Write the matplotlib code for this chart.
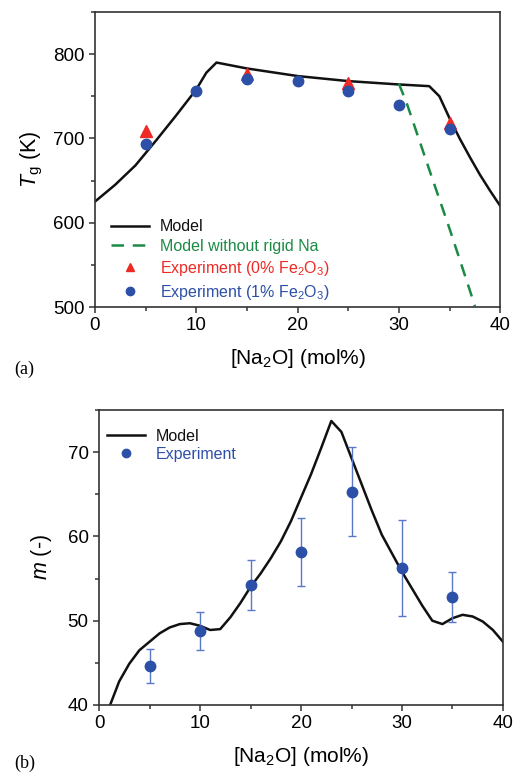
import matplotlib
matplotlib.use("Agg")
import numpy as np
import matplotlib.pyplot as plt

plt.rcParams["font.family"] = ["Liberation Sans", "DejaVu Sans"]
plt.rcParams["mathtext.fontset"] = "custom"
plt.rcParams["mathtext.rm"] = "Liberation Sans"
plt.rcParams["mathtext.it"] = "Liberation Sans:italic"

# --- panel (a): glass transition temperature ---
model_x = [0, 2, 4, 6, 8, 10, 11, 12, 15, 20, 25, 30, 33, 34, 35, 36, 37, 38, 39, 40]
model_tg = [625, 645, 668, 697, 727, 758, 778, 790, 783, 774, 768, 764, 762, 750,
            724, 700, 678, 657, 638, 620]
norigid_x = [30, 30.8, 33, 35, 37, 37.5]
norigid_tg = [765, 741, 663, 593, 520, 501]
exp0_x = [5, 15, 25, 35]
exp0_tg = [709, 777, 766, 718]
exp1_x = [5, 10, 15, 20, 25, 30, 35]
exp1_tg = [693, 756, 771, 768, 756, 740, 711]

# --- panel (b): fragility ---
frag_x = [1.1, 2, 3, 4, 5, 6, 7, 8, 9, 10, 11, 12, 13, 14, 15, 16, 17, 18, 19, 20,
          21, 22, 23, 24, 25, 26, 27, 28, 29, 30, 31, 32, 33, 34, 35, 36, 37, 38, 39, 40]
frag_m = [40.0, 42.8, 44.9, 46.5, 47.5, 48.5, 49.2, 49.6, 49.7, 49.4, 48.9, 49.0,
          50.4, 52.1, 54.0, 55.6, 57.4, 59.4, 61.8, 64.6, 67.4, 70.5, 73.7, 72.4,
          69.3, 66.2, 63.1, 60.2, 58.0, 55.8, 53.8, 51.8, 50.0, 49.6, 50.3, 50.7,
          50.5, 49.9, 48.9, 47.5]
mexp_x = [5, 10, 15, 20, 25, 30, 35]
mexp = [44.6, 48.8, 54.2, 58.2, 65.3, 56.3, 52.8]
mexp_hi = [46.7, 51.0, 57.2, 62.2, 70.6, 62.0, 55.8]
mexp_lo = [42.6, 46.5, 51.3, 54.1, 60.1, 50.6, 49.9]

BLACK = "#111111"
GREEN = "#1b8a45"
RED = "#ee2a24"
BLUE = "#2c4fa8"
EBLUE = "#5a78c8"


def style_axes(ax):
    for s in ax.spines.values():
        s.set_linewidth(1.2)
        s.set_color("#333333")
    ax.tick_params(which="both", direction="out", width=1.1, color="#333333",
                   labelsize=13.5, pad=3)
    ax.tick_params(which="major", length=4.5)
    ax.tick_params(which="minor", length=3)


fig = plt.figure(figsize=(5.13, 7.72), dpi=100)

ax1 = fig.add_axes([0.185, 0.6023, 0.79, 0.3822])
ax1.plot(model_x, model_tg, color=BLACK, lw=1.8, label="Model")
ax1.plot(norigid_x, norigid_tg, color=GREEN, lw=1.8, ls=(0, (5, 3.5)),
         label="Model without rigid Na")
ax1.plot(exp0_x, exp0_tg, ls="none", marker="^", ms=8, color=RED,
         label=r"Experiment (0% Fe$_2$O$_3$)")
ax1.plot(exp1_x, exp1_tg, ls="none", marker="o", ms=7.5, color=BLUE,
         label=r"Experiment (1% Fe$_2$O$_3$)")
ax1.set_xlim(0, 40)
ax1.set_ylim(500, 850)
ax1.set_xticks(np.arange(0, 41, 10))
ax1.set_xticks(np.arange(0, 41, 5), minor=True)
ax1.set_yticks(np.arange(500, 801, 100))
ax1.set_yticks(np.arange(500, 851, 50), minor=True)
ax1.set_xlabel(r"[Na$_2$O] (mol%)", fontsize=15, labelpad=9)
ax1.set_ylabel(r"$T_\mathrm{g}$ (K)", fontsize=15.5, labelpad=6)
style_axes(ax1)
leg1 = ax1.legend(loc="lower left", bbox_to_anchor=(0.005, -0.03), frameon=False,
                  fontsize=11.5, handlelength=2.35, handletextpad=0.7,
                  labelspacing=0.3, markerscale=0.8)
for txt, c in zip(leg1.get_texts(), [BLACK, GREEN, RED, BLUE]):
    txt.set_color(c)
fig.text(0.027, 0.515, "(a)", family="Liberation Serif", fontsize=13)

ax2 = fig.add_axes([0.193, 0.0868, 0.7875, 0.3821])
ax2.plot(frag_x, frag_m, color=BLACK, lw=1.8, label="Model")
yerr = [np.subtract(mexp, mexp_lo), np.subtract(mexp_hi, mexp)]
ax2.errorbar(mexp_x, mexp, yerr=yerr, ls="none", marker="none",
             ecolor=EBLUE, elinewidth=1.0, capsize=3, capthick=1.0)
ax2.plot(mexp_x, mexp, ls="none", marker="o", ms=7.5, color=BLUE,
         label="Experiment")
ax2.set_xlim(0, 40)
ax2.set_ylim(40, 75)
ax2.set_xticks(np.arange(0, 41, 10))
ax2.set_xticks(np.arange(0, 41, 5), minor=True)
ax2.set_yticks(np.arange(40, 71, 10))
ax2.set_yticks(np.arange(40, 76, 5), minor=True)
ax2.set_xlabel(r"[Na$_2$O] (mol%)", fontsize=15, labelpad=9)
ax2.set_ylabel(r"$m$ (-)", fontsize=15.5, labelpad=10)
style_axes(ax2)
leg2 = ax2.legend(loc="upper left", bbox_to_anchor=(-0.015, 0.985), frameon=False,
                  fontsize=11.5, handlelength=2.35, handletextpad=0.7,
                  labelspacing=0.2, markerscale=0.8)
for txt, c in zip(leg2.get_texts(), [BLACK, BLUE]):
    txt.set_color(c)
fig.text(0.027, 0.0, "(b)", family="Liberation Serif", fontsize=13,
         va="bottom")

fig.savefig("out.png", dpi=100)
